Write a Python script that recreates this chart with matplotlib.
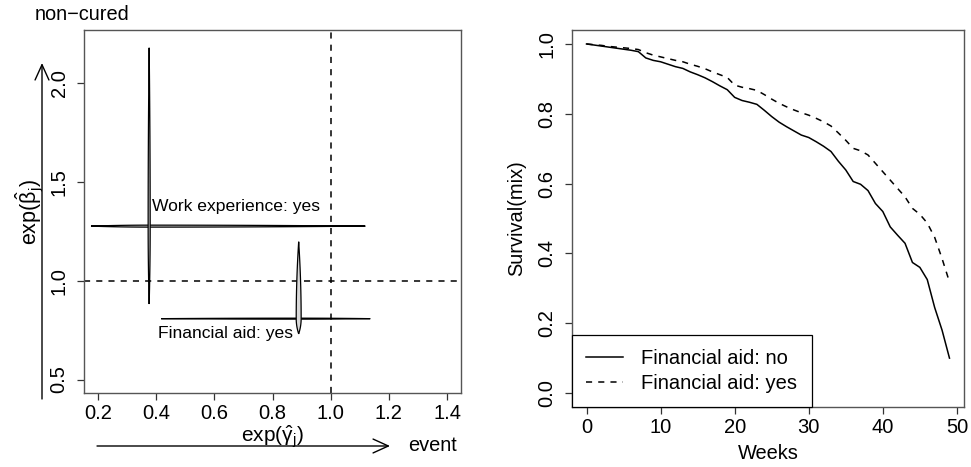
import numpy as np
import matplotlib
matplotlib.use('Agg')
import matplotlib.pyplot as plt
from matplotlib.patches import Polygon

plt.rcParams['font.family'] = ['Liberation Sans', 'DejaVu Sans']
plt.rcParams['mathtext.fontset'] = 'custom'
plt.rcParams['mathtext.rm'] = 'Liberation Sans'
plt.rcParams['mathtext.it'] = 'Liberation Sans'
plt.rcParams['mathtext.bf'] = 'Liberation Sans:bold'

# ---- left panel data: odds ratio (event) vs hazard ratio (non-cured) ----
covariates = ['Work experience: yes', 'Financial aid: yes']
gamma_est = [0.376, 0.890]
gamma_lo = [0.176, 0.417]
gamma_hi = [1.119, 1.136]
beta_est = [1.276, 0.808]
beta_lo = [0.882, 0.731]
beta_hi = [2.178, 1.197]
label_x = [0.387, 0.408]
label_y = [1.374, 0.732]

# ---- right panel data: survival curves ----
weeks = list(range(50))
surv_no = [1.000, 0.997, 0.994, 0.991, 0.988, 0.985, 0.982, 0.978, 0.960, 0.953,
           0.949, 0.942, 0.935, 0.930, 0.920, 0.912, 0.903, 0.892, 0.880, 0.869,
           0.847, 0.838, 0.833, 0.827, 0.810, 0.792, 0.776, 0.763, 0.751, 0.739,
           0.732, 0.720, 0.707, 0.692, 0.664, 0.639, 0.606, 0.598, 0.580, 0.543,
           0.520, 0.476, 0.452, 0.429, 0.374, 0.360, 0.325, 0.245, 0.180, 0.100]
surv_yes = [1.000, 0.998, 0.996, 0.993, 0.991, 0.989, 0.987, 0.984, 0.975, 0.968,
            0.963, 0.958, 0.953, 0.949, 0.942, 0.936, 0.929, 0.920, 0.912, 0.904,
            0.882, 0.876, 0.872, 0.867, 0.855, 0.842, 0.830, 0.820, 0.811, 0.803,
            0.796, 0.787, 0.777, 0.765, 0.745, 0.724, 0.701, 0.694, 0.682, 0.658,
            0.634, 0.610, 0.586, 0.562, 0.529, 0.512, 0.487, 0.446, 0.385, 0.318]
legend_labels = ['Financial aid: no', 'Financial aid: yes']

# lens half-widths (style): [horizontal lens half-height (y units), vertical lens half-width (x units)]
lens_hw = [(0.005, 0.0035), (0.0025, 0.0085)]

W, H = 971, 467
fig = plt.figure(figsize=(W / 100, H / 100), dpi=100)

def frac(x0, y0, x1, y1):
    return [x0 / W, 1 - y1 / H, (x1 - x0) / W, (y1 - y0) / H]

ax1 = fig.add_axes(frac(84, 30, 461, 393))
ax2 = fig.add_axes(frac(572, 30, 964, 407))

dash = (0, (4, 4))
tick_fs = 14.5
fs = 14.4
for ax in (ax1, ax2):
    for sp in ax.spines.values():
        sp.set_color('#555555')
        sp.set_linewidth(1.0)
    ax.tick_params(direction='out', length=5, width=0.9, labelsize=tick_fs, color='#333333')
    ax.tick_params(axis='x', pad=3)
    ax.tick_params(axis='y', pad=6)

def lens(ax, c, lo, hi, other, hw, vertical):
    s = np.linspace(-1, 1, 201)
    pos = np.where(s < 0, c + s * (c - lo), c + s * (hi - c))
    w = hw * (1 - s ** 2)
    a = np.concatenate([pos, pos[::-1]])
    b = np.concatenate([other + w, (other - w)[::-1]])
    pts = np.column_stack([b, a]) if vertical else np.column_stack([a, b])
    ax.add_patch(Polygon(pts, closed=True, facecolor='#d9d9d9', edgecolor='black',
                         linewidth=0.9, zorder=3))

# Left panel
ax1.axvline(1.0, color='black', lw=1.1, ls=dash, zorder=1)
ax1.axhline(1.0, color='black', lw=1.1, ls=dash, zorder=1)
for i in range(len(covariates)):
    lens(ax1, gamma_est[i], gamma_lo[i], gamma_hi[i], beta_est[i], lens_hw[i][0], False)
    lens(ax1, beta_est[i], beta_lo[i], beta_hi[i], gamma_est[i], lens_hw[i][1], True)
    ax1.text(label_x[i], label_y[i], covariates[i], fontsize=12.6, ha='left', va='center', zorder=4)
ax1.set_xlim(0.152, 1.448)
ax1.set_ylim(0.432, 2.268)
ax1.set_xticks([0.2, 0.4, 0.6, 0.8, 1.0, 1.2, 1.4])
ax1.set_xticklabels(['0.2', '0.4', '0.6', '0.8', '1.0', '1.2', '1.4'])
ax1.set_yticks([0.5, 1.0, 1.5, 2.0])
ax1.set_yticklabels(['0.5', '1.0', '1.5', '2.0'], rotation=90, va='center')
ax1.text(0.5, -0.123, r'$\mathrm{exp}(\hat{\gamma}_j)$', transform=ax1.transAxes,
         fontsize=15, ha='center', va='center')
ax1.text(-0.145, 0.5, r'$\mathrm{exp}(\hat{\beta}_j)$', transform=ax1.transAxes,
         fontsize=15.5, ha='center', va='center', rotation=90)
ax1.text(-0.13, 1.044, 'non\u2212cured', transform=ax1.transAxes, fontsize=fs,
         ha='left', va='center')
ax1.text(0.859, -0.146, 'event', transform=ax1.transAxes, fontsize=fs,
         ha='left', va='center')
arrow = dict(arrowstyle='->, head_length=11, head_width=5', mutation_scale=1,
             color='black', lw=1.0, shrinkA=0, shrinkB=0)
ax1.annotate('', xy=(-0.1114, 0.909), xytext=(-0.1114, -0.0165),
             xycoords='axes fraction', textcoords='axes fraction',
             arrowprops=arrow, annotation_clip=False)
ax1.annotate('', xy=(0.8117, -0.146), xytext=(0.0345, -0.146),
             xycoords='axes fraction', textcoords='axes fraction',
             arrowprops=arrow, annotation_clip=False)

# Right panel
ax2.plot(weeks, surv_no, color='black', lw=1.1, ls='-', label=legend_labels[0])
ax2.plot(weeks, surv_yes, color='black', lw=1.1, ls=dash, label=legend_labels[1])
ax2.set_xlim(-1.96, 50.96)
ax2.set_ylim(-0.04, 1.04)
ax2.set_xticks([0, 10, 20, 30, 40, 50])
ax2.set_yticks([0.0, 0.2, 0.4, 0.6, 0.8, 1.0])
ax2.set_yticklabels(['0.0', '0.2', '0.4', '0.6', '0.8', '1.0'], rotation=90, va='center')
ax2.set_xlabel('Weeks', fontsize=fs, labelpad=5)
ax2.set_ylabel('Survival(mix)', fontsize=fs, labelpad=8)
leg = ax2.legend(loc='lower left', borderaxespad=0, fontsize=14.5, fancybox=False,
                 edgecolor='black', framealpha=1, borderpad=0.7, handlelength=1.85,
                 handletextpad=0.9, labelspacing=0.3)
leg.get_frame().set_linewidth(0.9)

fig.savefig('out.png', dpi=100)
